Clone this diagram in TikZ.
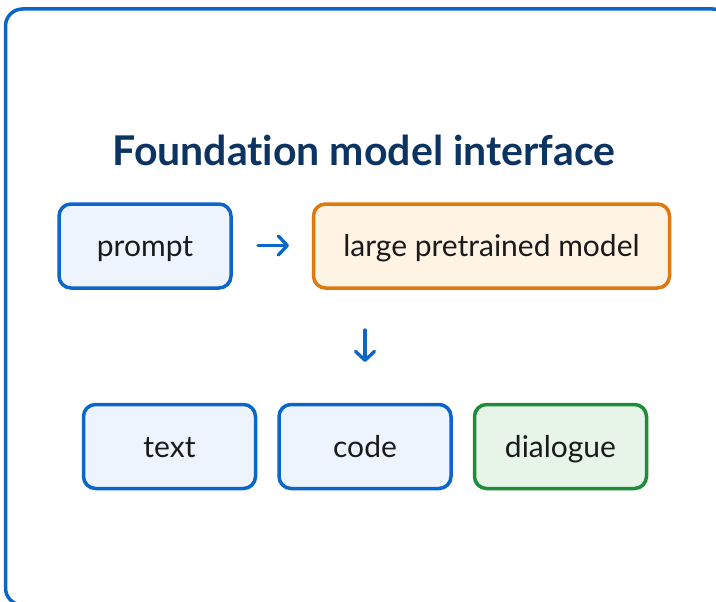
\documentclass[tikz,border=0pt]{standalone}
\usepackage{fontspec}
\setmainfont{Lato}[RawFeature={-liga}]
\usetikzlibrary{arrows.meta}
\definecolor{frameblue}{HTML}{0A66C8}
\definecolor{titlenavy}{HTML}{0B3463}
\definecolor{boxblue}{HTML}{0A66C8}
\definecolor{fillblue}{HTML}{EEF4FD}
\definecolor{boxorange}{HTML}{E07810}
\definecolor{fillorange}{HTML}{FFF3E4}
\definecolor{boxgreen}{HTML}{1E8C3A}
\definecolor{fillgreen}{HTML}{E6F5E8}
\definecolor{ink}{HTML}{1A1A1A}
\tikzset{
  card/.style={rounded corners=12pt, line width=3.5pt, minimum height=84pt,
    text=ink, font=\fontsize{30pt}{34pt}\selectfont,
    text height=24pt, text depth=3pt},
  bluecard/.style={card, draw=boxblue, fill=fillblue},
  orangecard/.style={card, draw=boxorange, fill=fillorange},
  greencard/.style={card, draw=boxgreen, fill=fillgreen},
  flow/.style={draw=boxblue, line width=3.3pt, line cap=round,
    -{Straight Barb[length=9pt, width=19pt, line width=3.3pt, round]}}
}
\begin{document}
\begin{tikzpicture}[x=1pt, y=-1pt]
\useasboundingbox (0,0) rectangle (716,602);
% outer panel
\draw[frameblue, line width=3.5pt, rounded corners=17pt] (5.5,9) rectangle (730,605);
% heading
\node[text=titlenavy, font=\fontsize{41pt}{45pt}\selectfont\bfseries] (title) at (364,150) {Foundation model interface};
% top row
\node[bluecard, minimum width=172pt] (prompt) at (145,246) {prompt};
\node[orangecard, minimum width=356pt] (model) at (491.5,246) {large pretrained model};
% outputs
\node[bluecard, minimum width=172pt] (text) at (169.5,446.5) {text};
\node[bluecard, minimum width=172pt] (code) at (365,446.5) {code};
\node[greencard, minimum width=172pt] (dialogue) at (560.5,446.5) {dialogue};
% arrows
\coordinate (ra) at (258,245.5);
\coordinate (rb) at (289,245.5);
\draw[flow] (ra) -- (rb);
\coordinate (da) at (365,330);
\coordinate (db) at (365,362);
\draw[flow] (da) -- (db);
\end{tikzpicture}
\end{document}
